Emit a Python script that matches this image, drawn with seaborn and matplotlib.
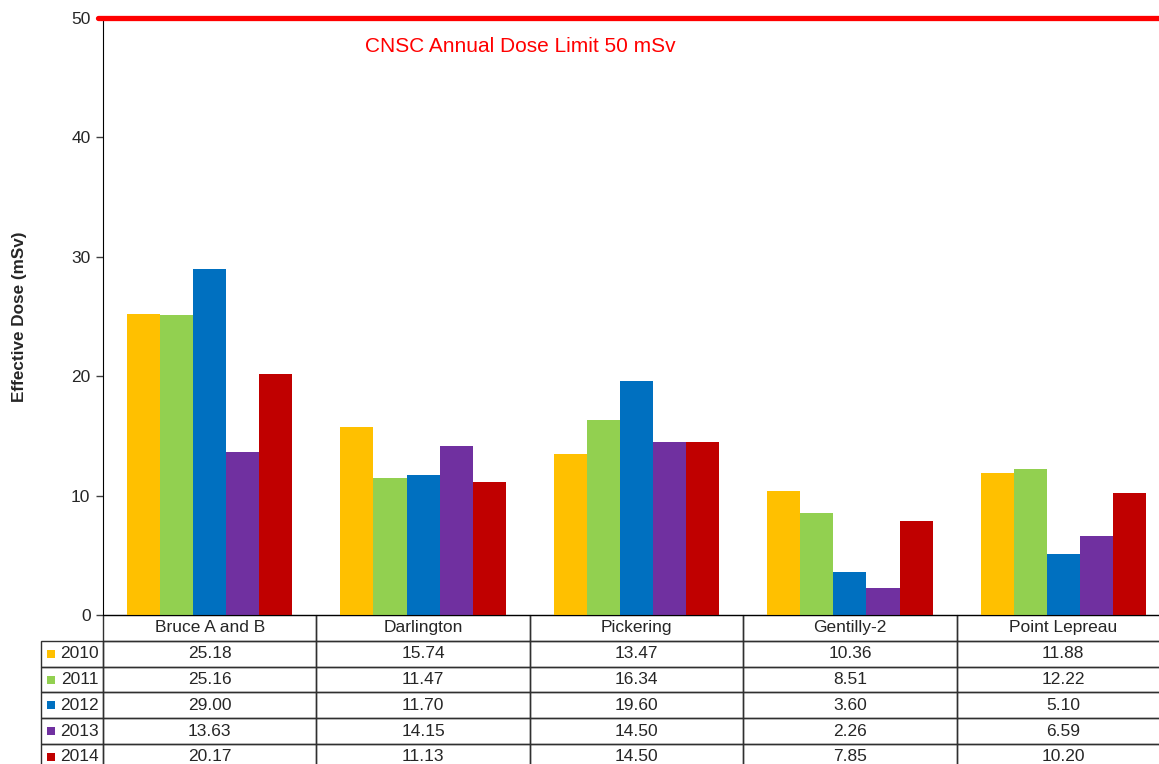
import numpy as np
import pandas as pd
import matplotlib
matplotlib.use("Agg")
import matplotlib.pyplot as plt
from matplotlib.table import Table
from matplotlib.patches import Rectangle
import seaborn as sns

# ---- data ----
stations = ["Bruce A and B", "Darlington", "Pickering", "Gentilly-2", "Point Lepreau"]
years = ["2010", "2011", "2012", "2013", "2014"]
dose_2010 = [25.18, 15.74, 13.47, 10.36, 11.88]
dose_2011 = [25.16, 11.47, 16.34, 8.51, 12.22]
dose_2012 = [29.00, 11.70, 19.60, 3.60, 5.10]
dose_2013 = [13.63, 14.15, 14.50, 2.26, 6.59]
dose_2014 = [20.17, 11.13, 14.50, 7.85, 10.20]
colors = ["#FFC000", "#92D050", "#0070C0", "#7030A0", "#C00000"]
limit_value = 50
limit_label = "CNSC Annual Dose Limit 50 mSv"
y_ticks = [0, 10, 20, 30, 40, 50]

series = [dose_2010, dose_2011, dose_2012, dose_2013, dose_2014]
rows = []
for yr, vals in zip(years, series):
    for st, v in zip(stations, vals):
        rows.append({"Station": st, "Year": yr, "Dose": v})
df = pd.DataFrame(rows)

sns.set_style("ticks")
plt.rcParams["font.family"] = ["Liberation Sans", "DejaVu Sans"]

W, H = 1159, 764
fig = plt.figure(figsize=(W / 100, H / 100), dpi=100)
ax_l, ax_r, ax_t, ax_b = 103, 1170, 18, 615
ax = fig.add_axes([ax_l / W, (H - ax_b) / H, (ax_r - ax_l) / W, (ax_b - ax_t) / H])

sns.barplot(data=df, x="Station", y="Dose", hue="Year", order=stations,
            hue_order=years, palette=colors, width=0.775, gap=0,
            linewidth=0, saturation=1, legend=False, ax=ax, errorbar=None)

ax.set_xlim(-0.5, len(stations) - 0.5)
ax.set_ylim(0, 50)
ax.set_yticks(y_ticks)
ax.tick_params(axis="y", labelsize=12.5, length=5, width=1, color="#404040", pad=4,
               direction="out")
ax.tick_params(axis="x", length=0, labelbottom=False)
ax.set_xlabel("")
ax.set_ylabel("Effective Dose (mSv)", fontsize=12.3, fontweight="bold", labelpad=32)
for s in ["top", "right"]:
    ax.spines[s].set_visible(False)
ax.spines["left"].set_color("black")
ax.spines["bottom"].set_color("black")

# limit line
ax.axhline(limit_value, xmin=-0.005, xmax=1, color="#FF0000", lw=3.8, clip_on=False, zorder=5)
ax.text(0.727, 47.65, limit_label, color="#FF0000", fontsize=15, ha="left", va="center")

# ---- data table ----
ax_w = ax_r - ax_l
ax_h = ax_b - ax_t
lab_w = 62 / ax_w
row_h = 25.8
n_rows = len(years) + 1
tab_h = n_rows * row_h / ax_h
# bbox covers the data grid only; the row-label column hangs off to the left
tbl = Table(ax, bbox=[0, -tab_h, 1, tab_h])
col_w = 1.0 / len(stations)
for j, st in enumerate(stations):
    tbl.add_cell(0, j, width=col_w, height=1, text=st, loc="center")
for i, (yr, vals) in enumerate(zip(years, series)):
    c = tbl.add_cell(i + 1, -1, width=lab_w, height=1, text=yr, loc="right")
    c.PAD = 0.07
    for j, v in enumerate(vals):
        tbl.add_cell(i + 1, j, width=col_w, height=1, text=f"{v:.2f}", loc="center")
tbl.auto_set_font_size(False)
tbl.set_fontsize(12.5)
for key, cell in tbl.get_celld().items():
    cell.set_edgecolor("#303030")
    cell.set_linewidth(1.0)
    cell.set_facecolor("none")
ax.add_table(tbl)

# color keys in row labels
sq_w = 8 / ax_w
sq_h = 8 / ax_h
for i, col in enumerate(colors):
    yc = -(i + 1.5) * row_h / ax_h
    ax.add_patch(Rectangle((-lab_w + 6 / ax_w, yc - sq_h / 2), sq_w, sq_h,
                           transform=ax.transAxes, facecolor=col, edgecolor="none",
                           clip_on=False, zorder=6))

fig.savefig("out.png", dpi=100)
